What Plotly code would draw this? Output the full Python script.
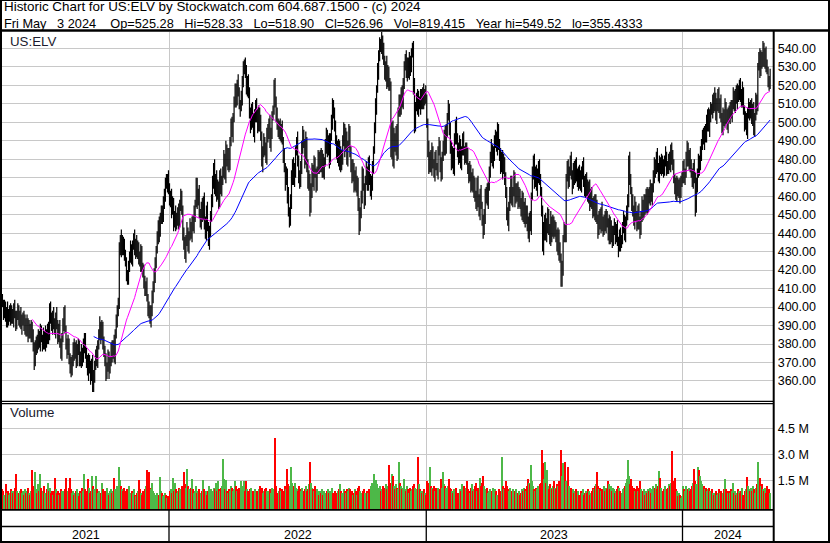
import plotly.graph_objects as go
import pandas as pd

W, H = 830, 543

# ---------------- data ----------------
first_open = 404
close = [
    402, 397, 400, 394, 398, 392, 396, 399, 393, 397,
    394, 399, 396, 391, 395, 398, 393, 396, 390, 393,
    395, 389, 392, 387, 391, 385, 389, 386, 390, 384,
    378, 370, 377, 382, 379, 385, 381, 387, 383, 380,
    384, 379, 386, 382, 388, 385, 400, 394, 389, 396,
    391, 388, 395, 390, 384, 389, 380, 375, 383, 392,
    396, 388, 380, 376, 381, 372, 369, 365, 372, 378,
    374, 379, 371, 376, 380, 373, 370, 376, 372, 378,
    383, 376, 370, 365, 372, 367, 362, 369, 357, 364,
    368, 375, 371, 379, 385, 390, 384, 389, 382, 376,
    370, 364, 368, 373, 366, 371, 378, 374, 380, 373,
    385, 394, 398, 401, 432, 437, 430, 436, 433, 428,
    424, 418, 415, 421, 427, 432, 426, 433, 437, 431,
    435, 429, 433, 427, 424, 430, 422, 418, 414, 409,
    412, 405, 400, 397, 393, 398, 404, 412, 418, 425,
    431, 437, 444, 440, 449, 452, 448, 456, 462, 467,
    466, 470, 464, 457, 461, 452, 456, 446, 450, 444,
    448, 452, 445, 455, 460, 452, 441, 434, 428, 436,
    441, 433, 438, 444, 440, 446, 443, 450, 456, 467,
    458, 462, 450, 446, 455, 449, 457, 447, 440, 452,
    444, 435, 441, 448, 459, 468, 475, 463, 470, 460,
    466, 458, 471, 463, 468, 474, 480, 472, 486, 478,
    483, 476, 490, 498, 494, 503, 510, 518, 512, 521,
    516, 510, 508, 513, 522, 529, 532, 526, 519, 523,
    515, 505, 498, 508, 500, 494, 503, 510, 504, 497,
    505, 499, 493, 478, 484, 490, 486, 480, 492, 496,
    500, 488, 494, 503, 507, 519, 512, 505, 498, 495,
    499, 492, 496, 490, 483, 476, 468, 472, 460, 452,
    446, 458, 470, 478, 468, 474, 484, 490, 479, 472,
    467, 476, 486, 494, 488, 480, 490, 477, 466, 470,
    453, 462, 475, 468, 478, 472, 466, 474, 480, 476,
    483, 475, 481, 473, 478, 486, 494, 484, 490, 480,
    492, 500, 510, 505, 497, 490, 483, 488, 478, 485,
    476, 481, 490, 497, 486, 492, 480, 488, 495, 484,
    478, 470, 475, 466, 472, 464, 468, 455, 444, 451,
    460, 472, 465, 458, 468, 474, 466, 478, 470, 462,
    468, 475, 485, 497, 508, 518, 528, 536, 543, 540,
    545, 538, 533, 526, 531, 522, 528, 520, 519, 485,
    498, 478, 492, 486, 495, 482, 506, 512, 508, 515,
    510, 522, 530, 535, 527, 532, 526, 534, 529, 537,
    541, 520, 498, 508, 514, 507, 512, 509, 515, 510,
    517, 511, 515, 513, 499, 486, 476, 482, 475, 484,
    478, 473, 481, 476, 474, 484, 488, 476, 472, 481,
    487, 494, 485, 496, 503, 507, 496, 488, 478, 484,
    474, 490, 498, 492, 486, 480, 489, 478, 484, 491,
    485, 480, 486, 482, 476, 470, 474, 466, 471, 464,
    468, 460, 455, 466, 458, 452, 462, 455, 447, 441,
    450, 459, 463, 457, 465, 474, 481, 486, 478, 484,
    489, 493, 486, 496, 488, 481, 476, 482, 474, 479,
    470, 462, 450, 446, 455, 460, 468, 457, 463, 470,
    458, 462, 465, 456, 461, 457, 452, 459, 448, 455,
    447, 452, 444, 440, 449, 443, 460, 472, 479, 468,
    474, 465, 470, 477, 468, 463, 452, 432, 441, 448,
    438, 444, 451, 442, 436, 447, 440, 446, 441, 444,
    438, 432, 440, 430, 426, 414, 421, 437, 443, 440,
    470, 476, 468, 473, 479, 472, 466, 475, 470, 478,
    471, 467, 474, 469, 465, 473, 477, 468, 462, 470,
    464, 459, 465, 457, 462, 455, 452, 458, 450, 456,
    447, 442, 449, 444, 452, 446, 441, 448, 444, 450,
    445, 439, 446, 437, 442, 436, 441, 444, 438, 442,
    436, 432, 439, 434, 437, 443, 448, 440, 446, 450,
    458, 480, 469, 463, 457, 452, 446, 455, 449, 444,
    452, 447, 441, 449, 456, 451, 458, 453, 460, 455,
    462, 458, 465, 460, 464, 470, 478, 474, 481, 476,
    472, 478, 474, 480, 476, 473, 479, 482, 476, 474,
    480, 477, 486, 482, 476, 470, 465, 460, 468, 463,
    466, 461, 468, 471, 475, 469, 473, 481, 486, 478,
    483, 476, 472, 468, 476, 470, 453, 465, 473, 480,
    476, 483, 488, 493, 490, 496, 492, 499, 505, 497,
    503, 508, 506, 512, 508, 514, 504, 510, 515, 507,
    511, 502, 497, 505, 500, 508, 503, 499, 506, 502,
    508, 504, 510, 514, 509, 516, 512, 518, 514, 520,
    515, 511, 517, 506, 498, 503, 496, 504, 508, 505,
    510, 501, 507, 496, 503, 512, 509, 530, 535, 528,
    536, 532, 540, 534, 538, 530, 528, 522, 520, 527,
]

# how far each day's high reaches above max(open, close) and low below min(open, close)
wick_up = [
    3,2,4,3,2,5,3,2,3,4,2,3,5,2,3,4,3,2,4,3,2,3,4,2,5,
    3,4,2,3,2,4,3,5,2,3,3,2,4,3,2,5,3,4,2,3,4,2,3,3,2,
    4,3,2,5,3,2,4,3,3,2,4,5,2,3,4,2,3,4,2,3,5,2,3,4,3,
    2,3,4,2,5,3,3,2,4,3,2,4,3,5,2,3,2,4,3,3,5,2,4,3,2,
    3,5,2,4,3,2,3,4,2,5,3,2,3,4,3,2,5,3,2,4,3,3,2,4,3,
    4,2,3,3,5,2,4,3,2,3,4,3,2,5,3,2,4,2,3,4,3,5,2,3,2,
    2,4,3,5,2,3,3,4,2,3,5,2,4,3,2,3,4,3,2,5,3,2,4,3,4,
    3,3,2,4,3,5,2,3,4,2,3,4,5,2,3,3,2,4,3,2,4,3,5,2,3,
    5,2,3,4,2,3,3,5,2,4,3,2,3,4,3,2,5,3,4,2,3,3,2,4,5,
    2,4,3,3,2,5,3,2,4,3,4,2,3,5,2,3,4,3,2,3,5,4,2,3,3,
    4,3,5,2,3,4,2,3,5,3,2,4,3,3,2,4,5,2,3,4,2,3,3,5,2,
    3,2,4,3,5,2,3,4,2,3,4,3,2,5,3,2,3,4,4,2,3,5,2,3,4,
    2,5,3,2,4,3,3,2,5,4,2,3,4,2,3,5,3,2,3,4,2,4,3,2,3,
    4,3,2,3,5,2,4,3,3,2,5,3,2,4,3,3,2,5,3,2,4,3,2,4,3,
    3,4,3,2,3,5,2,3,4,2,3,4,2,3,5,2,4,3,3,2,4,2,5,3,2,
    5,3,2,4,3,2,3,5,2,3,4,2,3,3,4,5,2,3,2,4,3,3,4,2,3,
    2,3,4,3,2,4,5,2,3,3,2,4,3,5,2,3,4,2,3,5,3,2,3,4,2,
    3,4,2,5,3,3,2,4,3,2,5,3,4,2,3,2,4,3,5,2,3,4,2,3,3,
    4,2,3,3,4,2,5,3,2,4,3,2,3,4,5,3,2,4,2,3,3,5,2,4,3,
    2,3,5,2,3,4,3,2,4,3,3,5,2,3,4,2,3,3,4,2,5,3,3,2,4,
    3,5,2,3,4,3,2,4,3,2,4,3,3,5,2,3,2,4,3,4,2,3,5,2,3,
    4,2,3,5,2,3,4,3,2,3,5,2,4,3,3,2,4,3,2,5,3,4,2,3,2,
    2,3,4,3,3,5,2,3,4,2,3,4,2,3,5,3,2,4,3,2,3,5,3,4,2,
    3,4,2,3,5,2,3,3,4,2,5,3,2,4,3,2,3,4,3,5,2,3,4,2,3,
    5,2,3,4,2,3,4,2,3,5,3,2,4,3,2,4,3,5,2,3,3,4,2,3,4,
    2,3,3,4,5,2,3,4,2,3,4,3,2,3,5,2,4,3,3,2,4,3,5,2,3,
    3,4,2,3,3,4,2,5,3,2,3,4,3,2,4,5,2,3,4,3,2,3,4,3,2,
    4,3,5,2,3,2,4,3,3,4,2,3,5,2,3,4,3,2,3,4,5,2,3,3,4,
    2,4,3,3,2,5,3,4,2,3,3,4,2,5,3,2,4,3,2,3,4,3,5,2,3,
    3,2,4,5,3,2,3,3,4,2,4,3,2,3,5,3,2,4,3,2,3,4,2,3,2,
]
wick_down = [
    2,4,3,2,5,3,2,4,3,2,3,5,2,4,3,2,3,4,2,5,3,2,4,3,3,
    4,2,3,5,3,2,4,2,3,4,2,3,5,2,4,3,2,3,4,2,5,3,3,2,4,
    3,3,5,2,4,3,2,3,4,2,5,2,3,4,2,3,5,3,2,4,3,2,4,3,2,
    5,2,3,4,2,3,4,3,2,5,3,4,2,3,3,5,2,3,4,2,3,4,2,5,3,
    2,4,3,3,5,2,3,4,2,3,4,2,5,3,2,4,3,2,5,3,2,4,3,3,2,
    3,3,4,2,3,5,2,3,4,2,5,3,2,4,3,3,2,5,3,2,4,3,2,4,5,
    4,2,3,5,2,4,3,2,3,5,2,4,3,2,3,4,2,5,3,3,2,4,3,2,3,
    2,5,3,2,4,3,3,4,2,3,5,2,3,4,2,5,3,2,3,4,3,2,5,3,4,
    3,2,4,3,2,5,4,2,3,3,2,5,4,2,3,2,4,3,5,2,4,3,2,3,2,
    5,3,2,4,3,2,3,5,2,4,3,3,2,4,5,2,3,4,2,3,2,5,3,4,3,
    2,4,3,2,5,3,4,2,3,3,5,2,4,3,2,3,4,5,2,3,4,2,3,2,5,
    3,5,2,4,3,3,2,5,4,2,3,4,2,3,5,3,2,4,3,2,5,3,4,2,3,
    4,2,3,3,5,2,4,3,2,4,3,2,5,3,4,2,3,3,2,5,3,2,4,3,2,
    2,3,5,2,4,3,2,4,3,5,2,3,4,2,3,5,3,2,4,3,2,4,3,5,3,
    3,4,2,5,3,2,3,3,4,2,4,5,3,2,3,4,2,5,3,2,3,4,2,3,4,
    4,3,3,2,4,5,2,3,2,4,3,2,3,5,4,2,3,4,2,3,5,2,3,4,2,
    2,5,4,3,2,3,4,2,5,3,3,4,2,3,2,5,4,3,2,4,3,3,5,2,3,
    5,2,3,4,3,2,5,3,2,4,2,3,5,4,3,2,3,2,4,5,3,2,3,4,2,
    3,3,2,5,4,3,2,4,3,2,5,3,2,3,4,3,5,2,3,4,2,5,3,2,4,
    2,4,3,2,3,5,3,2,4,3,2,4,3,5,2,4,3,3,2,5,3,4,2,3,3,
    4,2,5,3,2,4,3,5,2,3,4,2,3,3,5,2,4,2,3,4,3,2,5,3,2,
    3,3,2,4,5,2,3,4,3,2,3,5,2,4,3,3,2,4,5,2,3,3,4,2,5,
    5,2,4,3,2,3,5,2,4,3,3,2,4,5,2,3,4,3,2,3,4,2,3,5,3,
    2,4,3,3,4,2,5,3,2,4,5,3,2,3,4,2,3,5,3,2,4,3,2,4,3,
    3,5,2,4,2,3,3,4,5,2,3,4,3,2,5,3,2,4,3,3,2,5,4,2,3,
    4,3,3,2,5,4,2,3,3,5,2,3,4,2,3,4,5,2,3,4,3,2,3,5,2,
    2,3,4,5,2,3,4,2,3,3,4,5,2,3,4,2,3,3,5,2,4,3,2,3,4,
    3,4,2,3,3,5,2,4,3,2,5,3,3,4,2,5,3,2,4,3,2,3,5,4,2,
    5,2,3,4,2,3,4,3,5,2,3,2,4,3,3,4,2,5,3,2,4,3,3,2,3,
    2,3,5,2,4,3,2,3,3,4,2,5,3,2,4,3,3,2,4,5,3,2,3,3,2,
]

volume_m = [
    1.0, 0.9, 0.7, 1.3, 0.8, 0.9, 0.7, 0.8, 1.0, 0.9,
    0.8, 0.9, 1.1, 1.87, 0.9, 0.7, 0.8, 0.9, 1.0, 0.8,
    0.9, 0.7, 1.0, 0.8, 0.9, 1.1, 0.8, 0.7, 0.9, 2.15,
    1.2, 0.9, 2.0, 1.0, 0.8, 1.3, 0.9, 1.87, 1.1, 0.8,
    0.9, 1.2, 0.8, 1.0, 1.4, 0.9, 1.1, 0.8, 0.9, 0.7,
    0.9, 1.67, 1.0, 0.8, 0.9, 0.7, 0.8, 1.0, 0.9, 0.8,
    0.9, 1.0, 1.67, 0.8, 0.9, 1.1, 1.67, 1.0, 0.8, 0.9,
    0.7, 0.8, 0.9, 1.0, 0.8, 0.6, 0.9, 0.8, 1.1, 0.9,
    1.87, 1.0, 0.9, 1.6, 1.1, 0.8, 0.9, 1.8, 1.2, 1.0,
    0.9, 1.75, 1.0, 0.8, 0.9, 0.7, 0.8, 1.4, 1.0, 0.9,
    0.8, 0.9, 1.1, 0.8, 0.7, 0.9, 1.0, 0.8, 0.9, 1.67,
    1.0, 0.9, 1.2, 1.1, 2.3, 1.55, 1.2, 1.0, 0.9, 1.1,
    0.8, 0.9, 1.0, 1.2, 0.8, 0.7, 0.9, 0.8, 1.0, 0.7,
    0.6, 0.8, 0.9, 1.55, 1.0, 0.8, 0.7, 0.9, 0.8, 1.0,
    1.2, 2.15, 1.3, 2.0, 1.1, 1.0, 1.4, 0.9, 0.8, 0.7,
    0.6, 0.8, 0.5, 0.7, 1.7, 0.9, 0.8, 0.6, 0.7, 0.8,
    0.7, 0.5, 0.6, 0.9, 1.0, 0.8, 1.67, 0.9, 1.4, 1.0,
    0.8, 0.9, 1.1, 1.0, 0.9, 1.2, 1.0, 2.0, 1.3, 1.1,
    2.2, 1.2, 1.0, 0.9, 1.1, 1.6, 1.0, 0.8, 0.9, 1.2,
    0.8, 0.9, 1.0, 0.7, 0.8, 0.9, 1.55, 1.0, 0.8, 0.9,
    0.7, 0.9, 1.2, 1.0, 0.8, 0.9, 1.1, 1.0, 1.4, 0.9,
    1.5, 1.0, 0.9, 1.1, 1.2, 2.77, 1.6, 1.0, 1.55, 0.9,
    0.8, 1.0, 0.9, 1.2, 1.1, 0.9, 1.0, 1.5, 1.2, 0.9,
    1.0, 1.1, 0.9, 1.5, 1.0, 1.2, 1.5, 0.9, 1.5, 1.0,
    0.9, 0.8, 1.0, 1.1, 0.9, 0.8, 1.0, 0.7, 0.9, 0.8,
    1.0, 1.2, 0.9, 1.1, 0.8, 0.9, 1.0, 1.1, 0.9, 0.8,
    0.9, 1.0, 0.8, 1.1, 0.9, 1.0, 3.96, 1.2, 0.6, 0.8,
    0.9, 1.1, 0.9, 1.0, 0.8, 0.9, 1.2, 1.0, 2.2, 1.3,
    1.1, 1.2, 2.3, 1.4, 1.2, 1.4, 1.1, 1.0, 0.9, 1.2,
    1.0, 0.9, 1.1, 0.8, 0.9, 1.0, 1.2, 0.9, 1.0, 1.3,
    2.6, 1.4, 1.1, 1.0, 0.9, 1.2, 0.8, 1.0, 0.9, 0.7,
    0.9, 0.8, 1.0, 0.7, 0.9, 0.8, 0.6, 0.9, 1.0, 0.8,
    0.9, 0.7, 1.1, 0.8, 0.9, 0.7, 0.8, 0.9, 1.0, 1.3,
    0.9, 0.8, 0.7, 1.0, 0.9, 0.8, 1.0, 0.9, 1.1, 1.0,
    0.8, 0.9, 0.7, 0.8, 1.0, 0.9, 0.7, 1.1, 1.2, 0.9,
    0.8, 0.7, 0.9, 1.0, 0.8, 0.7, 0.9, 0.8, 1.0, 0.9,
    1.2, 1.4, 1.3, 1.9, 1.55, 1.3, 1.1, 1.0, 1.2, 0.9,
    1.0, 1.2, 0.9, 1.1, 1.3, 1.0, 1.2, 2.4, 1.4, 1.3,
    1.87, 1.75, 1.2, 1.0, 1.3, 1.1, 1.0, 2.6, 1.4, 1.2,
    1.0, 1.1, 1.6, 1.0, 0.9, 1.2, 1.0, 0.8, 1.1, 0.9,
    1.0, 1.2, 1.3, 1.1, 1.0, 2.9, 1.3, 1.0, 0.9, 0.8,
    0.9, 1.0, 0.8, 0.7, 1.5, 1.4, 1.2, 2.3, 1.2, 1.1,
    1.0, 1.2, 0.9, 1.1, 1.0, 1.1, 0.9, 1.0, 1.6, 1.1,
    2.0, 1.3, 1.2, 1.1, 1.0, 1.2, 1.6, 1.1, 1.0, 0.9,
    0.8, 1.0, 0.9, 1.1, 0.8, 0.7, 1.0, 0.9, 1.3, 0.8,
    1.2, 0.9, 1.1, 1.5, 1.0, 0.9, 0.8, 1.1, 1.3, 0.9,
    1.0, 1.2, 1.4, 0.9, 1.1, 1.0, 1.67, 1.2, 1.4, 1.75,
    1.2, 1.0, 0.9, 1.1, 0.8, 0.9, 1.0, 0.8, 0.9, 1.1,
    0.8, 1.0, 0.9, 0.7, 1.0, 0.8, 0.9, 2.9, 1.2, 1.0,
    1.1, 1.5, 1.2, 1.0, 0.9, 1.1, 0.8, 0.9, 1.0, 0.8,
    0.9, 1.0, 0.7, 0.8, 0.9, 0.7, 0.8, 1.0, 0.9, 1.1,
    1.0, 0.9, 1.2, 1.6, 1.4, 1.3, 2.4, 1.5, 1.2, 1.0,
    0.9, 1.1, 1.0, 1.2, 1.3, 1.4, 3.3, 2.5, 1.6, 2.6,
    1.4, 2.1, 1.2, 1.0, 1.3, 1.1, 1.0, 1.2, 1.5, 1.1,
    1.0, 1.3, 1.2, 1.5, 1.4, 3.25, 1.8, 2.5, 1.6, 2.6,
    1.5, 1.3, 2.3, 1.2, 1.0, 1.1, 0.9, 1.0, 0.8, 0.9,
    1.0, 0.8, 0.9, 0.7, 0.9, 0.8, 1.0, 0.7, 0.8, 0.9,
    0.8, 1.0, 0.9, 0.7, 0.8, 0.9, 1.1, 1.0, 1.2, 1.3,
    2.0, 1.2, 1.0, 1.1, 0.9, 1.0, 0.8, 1.2, 0.9, 1.1,
    1.0, 1.5, 1.3, 1.0, 1.2, 0.9, 1.1, 1.0, 0.8, 0.9,
    1.0, 1.2, 1.1, 0.9, 0.8, 1.0, 1.1, 1.2, 1.4, 1.6,
    2.7, 1.8, 1.3, 1.6, 1.2, 1.0, 1.1, 0.9, 1.0, 1.2,
    0.9, 1.1, 1.5, 1.0, 0.8, 0.9, 1.0, 0.7, 0.9, 0.8,
    1.0, 0.9, 1.1, 0.8, 1.0, 1.2, 0.9, 1.1, 1.3, 1.0,
    1.2, 2.05, 1.67, 1.1, 0.9, 1.0, 1.2, 0.8, 1.0, 1.1,
    1.3, 1.2, 1.4, 3.2, 1.5, 1.3, 1.67, 1.0, 0.9, 0.6,
    0.8, 0.7, 0.5, 0.6, 1.2, 1.0, 0.9, 1.2, 0.8, 1.0,
    1.1, 0.9, 1.0, 1.2, 1.4, 2.2, 1.5, 1.3, 1.1, 2.3,
    2.1, 1.8, 1.5, 1.3, 1.2, 1.0, 1.1, 0.9, 1.0, 1.1,
    0.9, 0.8, 1.0, 0.8, 0.7, 0.8, 0.9, 0.7, 0.8, 1.0,
    0.8, 0.9, 0.7, 0.8, 1.0, 1.6, 1.0, 0.9, 0.8, 0.9,
    0.8, 1.0, 0.9, 1.4, 0.8, 0.9, 0.7, 0.8, 1.0, 0.9,
    0.8, 0.9, 1.1, 0.7, 0.9, 1.0, 1.7, 1.2, 1.0, 0.9,
    1.1, 0.9, 1.2, 1.0, 0.8, 1.1, 1.3, 2.6, 1.6, 1.67,
    1.2, 1.3, 1.0, 0.9, 1.1, 0.8, 1.2, 0.9, 1.0, 0.82,
]

years = ["2021", "2022", "2023", "2024"]
year_start_index = [0, 163, 414, 664]
ma_periods = [30, 90]
price_ticks = [360, 370, 380, 390, 400, 410, 420, 430, 440, 450,
               460, 470, 480, 490, 500, 510, 520, 530, 540]
volume_ticks = [1.5, 3.0, 4.5]
volume_tick_text = ["1.5 M", "3.0 M", "4.5 M"]
symbol_label = "US:ELV"
header_1 = "Historic Chart for US:ELV by Stockwatch.com 604.687.1500 - (c) 2024"
header_2 = ("Fri May   3 2024    Op=525.28   Hi=528.33   Lo=518.90   Cl=526.96   "
            "Vol=819,415   Year hi=549.52   lo=355.4333")

# ---------------- styling / layout constants ----------------
FONT = "Liberation Sans, Arial, Helvetica, sans-serif"
GRID = "#C8C8C8"
UP = "#4DB848"
DOWN = "#FF0000"
FLAT = "#A8A8A8"

def fx(px):
    return px / W

def fy(py):
    return 1 - py / H

n = len(close)
idx = list(range(n))
opens = [first_open] + close[:-1]
highs = [max(o, c) + u for o, c, u in zip(opens, close, wick_up)]
lows = [min(o, c) - d for o, c, d in zip(opens, close, wick_down)]

seg_x, seg_y = [], []
for i in range(len(highs)):
    seg_x += [i, i, None]
    seg_y += [lows[i], highs[i], None]

s = pd.Series(close, dtype=float)
ma_fast = s.rolling(ma_periods[0]).mean()
ma_slow = s.rolling(ma_periods[1]).mean()

vol_colors = [UP if c > o else (DOWN if c < o else FLAT) for o, c in zip(opens, close)]

X_RANGE = [-0.43, 751.5]
P_RANGE = [349.43, 549.0]
V_RANGE = [-0.156, 5.874]
vol_floor = V_RANGE[0]

boundaries = [k - 0.5 for k in year_start_index[1:]]

fig = go.Figure()
fig.add_trace(go.Scatter(x=seg_x, y=seg_y, mode="lines",
                         line=dict(color="black", width=1.2),
                         xaxis="x", yaxis="y", hoverinfo="skip", showlegend=False))
fig.add_trace(go.Scatter(x=idx, y=ma_slow, mode="lines",
                         line=dict(color="#0000FF", width=1),
                         xaxis="x", yaxis="y", showlegend=False))
fig.add_trace(go.Scatter(x=idx, y=ma_fast, mode="lines",
                         line=dict(color="#FF00FF", width=1),
                         xaxis="x", yaxis="y", showlegend=False))
fig.add_trace(go.Bar(x=idx[:len(volume_m)], y=[v - vol_floor for v in volume_m], base=vol_floor,
                     marker=dict(color=vol_colors[:len(volume_m)], line=dict(width=0)),
                     width=1.0, xaxis="x2", yaxis="y2", showlegend=False))

xdom = [fx(2), fx(772.7)]
axis_common = dict(showline=False, zeroline=False, showticklabels=False,
                   tickmode="array", tickvals=boundaries, showgrid=True,
                   gridcolor=GRID, gridwidth=1, ticks="", range=X_RANGE,
                   domain=xdom, fixedrange=True)

fig.update_layout(
    width=W, height=H, autosize=False,
    margin=dict(l=0, r=0, t=0, b=0),
    paper_bgcolor="white", plot_bgcolor="white",
    showlegend=False, bargap=0,
    xaxis=dict(anchor="y", **axis_common),
    xaxis2=dict(anchor="y2", matches="x", **axis_common),
    yaxis=dict(domain=[fy(400.5), fy(31.7)], range=P_RANGE, side="right",
               anchor="x", tickmode="array", tickvals=price_ticks,
               ticktext=[f"{t:.2f}" for t in price_ticks],
               showgrid=True, gridcolor=GRID, gridwidth=1, zeroline=False,
               showline=False, ticks="", ticklabelstandoff=4,
               tickfont=dict(family=FONT, size=12.5, color="black"), fixedrange=True),
    yaxis2=dict(domain=[fy(509), fy(404.5)], range=V_RANGE, side="right",
                anchor="x2", tickmode="array", tickvals=volume_ticks,
                ticktext=volume_tick_text,
                showgrid=True, gridcolor=GRID, gridwidth=1, zeroline=False,
                showline=False, ticks="", ticklabelstandoff=4,
                tickfont=dict(family=FONT, size=12.5, color="black"), fixedrange=True),
)

shapes = []
def hline(py, x0, x1, w):
    shapes.append(dict(type="line", xref="paper", yref="paper",
                       x0=fx(x0), x1=fx(x1), y0=fy(py), y1=fy(py),
                       line=dict(color="black", width=w)))
def vline(px, y0, y1, w):
    shapes.append(dict(type="line", xref="paper", yref="paper",
                       x0=fx(px), x1=fx(px), y0=fy(y0), y1=fy(y1),
                       line=dict(color="black", width=w)))

hline(0.5, 0, W, 1.2)          # outer top
vline(1.0, 0, H, 2)            # outer left
vline(829.0, 0, H, 2)          # outer right
hline(542.0, 0, W, 2)          # outer bottom
hline(30.5, 0, W, 2.5)         # price panel top
vline(773.7, 30, H, 2)         # plot / label divider
hline(401.3, 0, 773, 1.3)      # double separator
hline(403.6, 0, 773, 1.3)
hline(509.8, 0, 773, 1.7)      # volume bottom
hline(526.5, 0, 773, 1.7)      # date rows divider
for b in boundaries:
    shapes.append(dict(type="line", xref="x", yref="paper", x0=b, x1=b,
                       y0=fy(510), y1=fy(542), line=dict(color="black", width=1.3)))

annotations = []
def text(px, py, s, size=12, color="black", anchor="left"):
    annotations.append(dict(xref="paper", yref="paper", x=fx(px), y=fy(py),
                            text=s.replace(" ", "\u00a0"), showarrow=False,
                            xanchor=anchor, yanchor="middle",
                            font=dict(family=FONT, size=size, color=color)))

text(2, 6.8, header_1, 13.4)
text(2, 23.2, header_2, 12.75)
text(8, 41.5, symbol_label, 13.3, "#1a1a2e")
text(8, 412.5, "Volume", 13.3, "#1a1a2e")

edges = [X_RANGE[0]] + boundaries + [X_RANGE[1]]
for k, yr in enumerate(years):
    annotations.append(dict(xref="x", yref="paper", x=(edges[k] + edges[k + 1]) / 2,
                            y=fy(534.8), text=yr, showarrow=False,
                            xanchor="center", yanchor="middle",
                            font=dict(family=FONT, size=12.5, color="black")))

fig.update_layout(shapes=shapes, annotations=annotations)
fig.write_html(
    "out.html",
    config={"displayModeBar": False},
    post_script=("document.body.style.margin='0';document.body.style.padding='0';"
                 "document.body.style.overflow='hidden';"),
)
